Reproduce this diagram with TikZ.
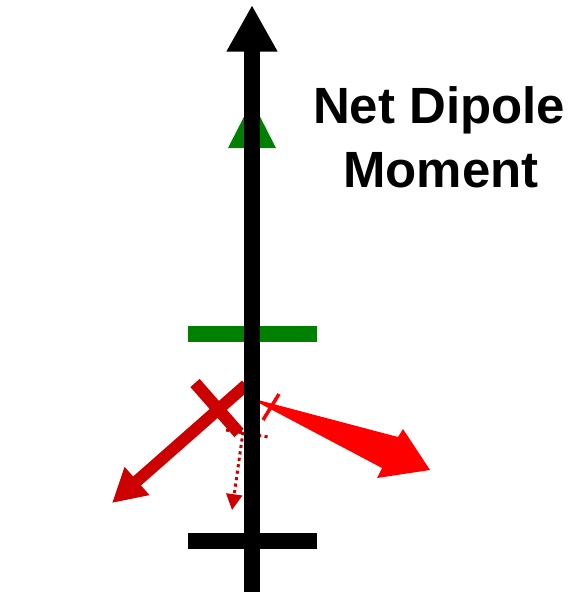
\documentclass[tikz,border=0pt]{standalone}
\usepackage{fontspec}
\setmainfont{Liberation Sans}
\usepackage{xcolor}
\usetikzlibrary{arrows.meta}
\definecolor{darkred}{HTML}{CC0000}
\definecolor{brightred}{HTML}{FF0000}
\definecolor{leafgreen}{HTML}{008000}

\begin{document}
\begin{tikzpicture}[x=0.02cm,y=-0.02cm,
  bar/.style={line width=9.07pt},
  label/.style={inner sep=0pt,anchor=base,font=\fontsize{29}{36}\selectfont\bfseries}]
\useasboundingbox (0,0) rectangle (578,592);

\coordinate (top) at (252,5);
\coordinate (bot) at (252,592);

\fill[leafgreen] (228,148)--(276,148)--(252,101)--cycle;
\draw[bar,leafgreen] (188,334)--(317,334);
\draw[bar,black] (188,541)--(317,541);

\scope[darkred]
\coordinate (xa) at (246,385);
\coordinate (xb) at (112,503);
\draw[line width=6.8pt,-{Triangle[length=19pt,width=20pt]}] (xa)--(xb);
\draw[line width=7pt] (195,383)--(239,433);
\draw[line width=1.7pt,dash pattern=on 1.8pt off 1.9pt] (226,430)--(268,437);
\coordinate (da) at (243,432);
\coordinate (db) at (232,510);
\draw[line width=1.7pt,dash pattern=on 1.8pt off 1.9pt,-{Triangle[length=9pt,width=9pt]}] (da)--(db);
\endscope

\scope[brightred]
\fill (260,400.5)--(398,437)--(403,429)--(430,470)--(377,478)--(382,468)--(260,403.5)--cycle;
\draw[line width=2pt] (279,394)--(263,420);
\endscope

\draw[line width=9.07pt,-{Triangle[length=26.6pt,width=27.2pt]}] (bot)--(top);

\node[label] (net) at (439,123) {Net Dipole};
\node[label] (moment) at (441,187) {Moment};
\end{tikzpicture}
\end{document}
